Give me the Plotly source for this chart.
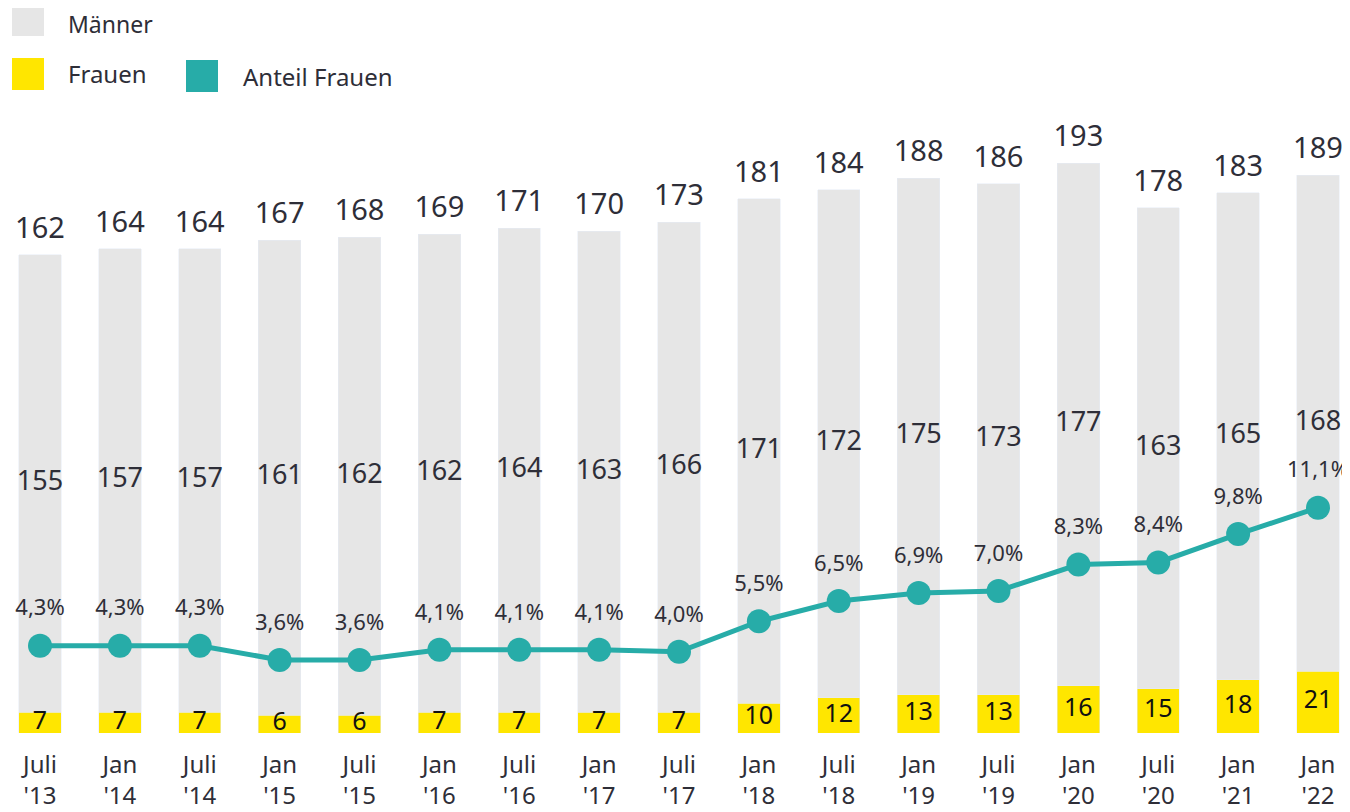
import plotly.graph_objects as go

categories = ["Juli<br>'13", "Jan<br>'14", "Juli<br>'14", "Jan<br>'15", "Juli<br>'15", "Jan<br>'16",
              "Juli<br>'16", "Jan<br>'17", "Juli<br>'17", "Jan<br>'18", "Juli<br>'18", "Jan<br>'19",
              "Juli<br>'19", "Jan<br>'20", "Juli<br>'20", "Jan<br>'21", "Jan<br>'22"]
maenner = [155, 157, 157, 161, 162, 162, 164, 163, 166, 171, 172, 175, 173, 177, 163, 165, 168]
frauen = [7, 7, 7, 6, 6, 7, 7, 7, 7, 10, 12, 13, 13, 16, 15, 18, 21]
gesamt = [162, 164, 164, 167, 168, 169, 171, 170, 173, 181, 184, 188, 186, 193, 178, 183, 189]
anteil = [4.3, 4.3, 4.3, 3.6, 3.6, 4.1, 4.1, 4.1, 4.0, 5.5, 6.5, 6.9, 7.0, 8.3, 8.4, 9.8, 11.1]

GRAY = "#E6E6E6"
YELLOW = "#FFE600"
TEAL = "#27ACA8"
TXT = "#2E2E38"
FONT = "Noto Sans"

x = list(range(len(categories)))

fig = go.Figure()
fig.add_bar(x=x, y=frauen, marker_color=YELLOW, width=0.53, name="Frauen", showlegend=False)
fig.add_bar(x=x, y=maenner, marker_color=GRAY, width=0.53, name="Männer", showlegend=False)

# labels
fig.add_scatter(x=x, y=[f / 2 for f in frauen], mode="text", text=[str(v) for v in frauen],
                textposition="middle center", textfont=dict(size=25, color="#111111", family=FONT),
                showlegend=False, hoverinfo="skip")
fig.add_scatter(x=x, y=[f + m / 2 for f, m in zip(frauen, maenner)], mode="text",
                text=[str(v) for v in maenner], textposition="middle center",
                textfont=dict(size=27, color=TXT, family=FONT), showlegend=False, hoverinfo="skip")
fig.add_scatter(x=x, y=gesamt, mode="markers+text", text=[str(v) for v in gesamt],
                textposition="top center", marker=dict(size=14, color="rgba(0,0,0,0)"),
                textfont=dict(size=29, color=TXT, family=FONT), showlegend=False, hoverinfo="skip")

fig.add_scatter(x=x, y=anteil, mode="lines+markers", yaxis="y2",
                line=dict(color=TEAL, width=5), marker=dict(size=24, color=TEAL),
                showlegend=False, hoverinfo="skip")
fig.add_scatter(x=x, y=anteil, mode="markers+text", yaxis="y2",
                marker=dict(size=38, color="rgba(0,0,0,0)"),
                text=[f"{v:.1f}%".replace(".", ",") for v in anteil], textposition="top center",
                textfont=dict(size=22, color=TXT, family=FONT), showlegend=False, hoverinfo="skip")

# page body has an 8px margin; figure is sized to fit the remaining window
OFF = 8
W, H = 1350 - OFF, 812 - OFF
T, B = 100 - OFF, 79
ph = H - T - B

def py(p):
    return (H - B - (p - OFF)) / ph

def px(p):
    return (p - OFF) / W

shapes = []
annotations = []
legend_items = [
    (12, 4, GRAY, "Männer", 66, 24, 23),
    (12, 58, YELLOW, "Frauen", 66, 74, 24),
    (186, 60, TEAL, "Anteil Frauen", 241, 76, 24),
]
for sx, sy, col, label, tx, ty, fs in legend_items:
    shapes.append(dict(type="rect", xref="paper", yref="paper", x0=px(sx), x1=px(sx + 32),
                       y0=py(sy + 32), y1=py(sy), fillcolor=col, line=dict(width=0)))
    annotations.append(dict(xref="paper", yref="paper", x=px(tx), y=py(ty), text=label,
                            showarrow=False, xanchor="left", yanchor="middle",
                            font=dict(size=fs, color=TXT, family=FONT)))

step = 79.875
left = -(40 - OFF) / step
fig.update_layout(
    width=W, height=H, barmode="stack", plot_bgcolor="white", paper_bgcolor="white",
    margin=dict(l=0, r=0, t=T, b=B, autoexpand=False),
    xaxis=dict(tickmode="array", tickvals=x, ticktext=categories, range=[left, left + W / step],
               showgrid=False, zeroline=False, showline=False, ticks="", automargin=False,
               ticklabelstandoff=15, tickfont=dict(size=24, color=TXT, family=FONT)),
    yaxis=dict(range=[0, ph / 2.952], visible=False, showgrid=False),
    yaxis2=dict(range=[0, ph / 20.3], overlaying="y", visible=False, showgrid=False),
    shapes=shapes, annotations=annotations, font=dict(family=FONT, color=TXT),
)

fig.write_html("out.html")
